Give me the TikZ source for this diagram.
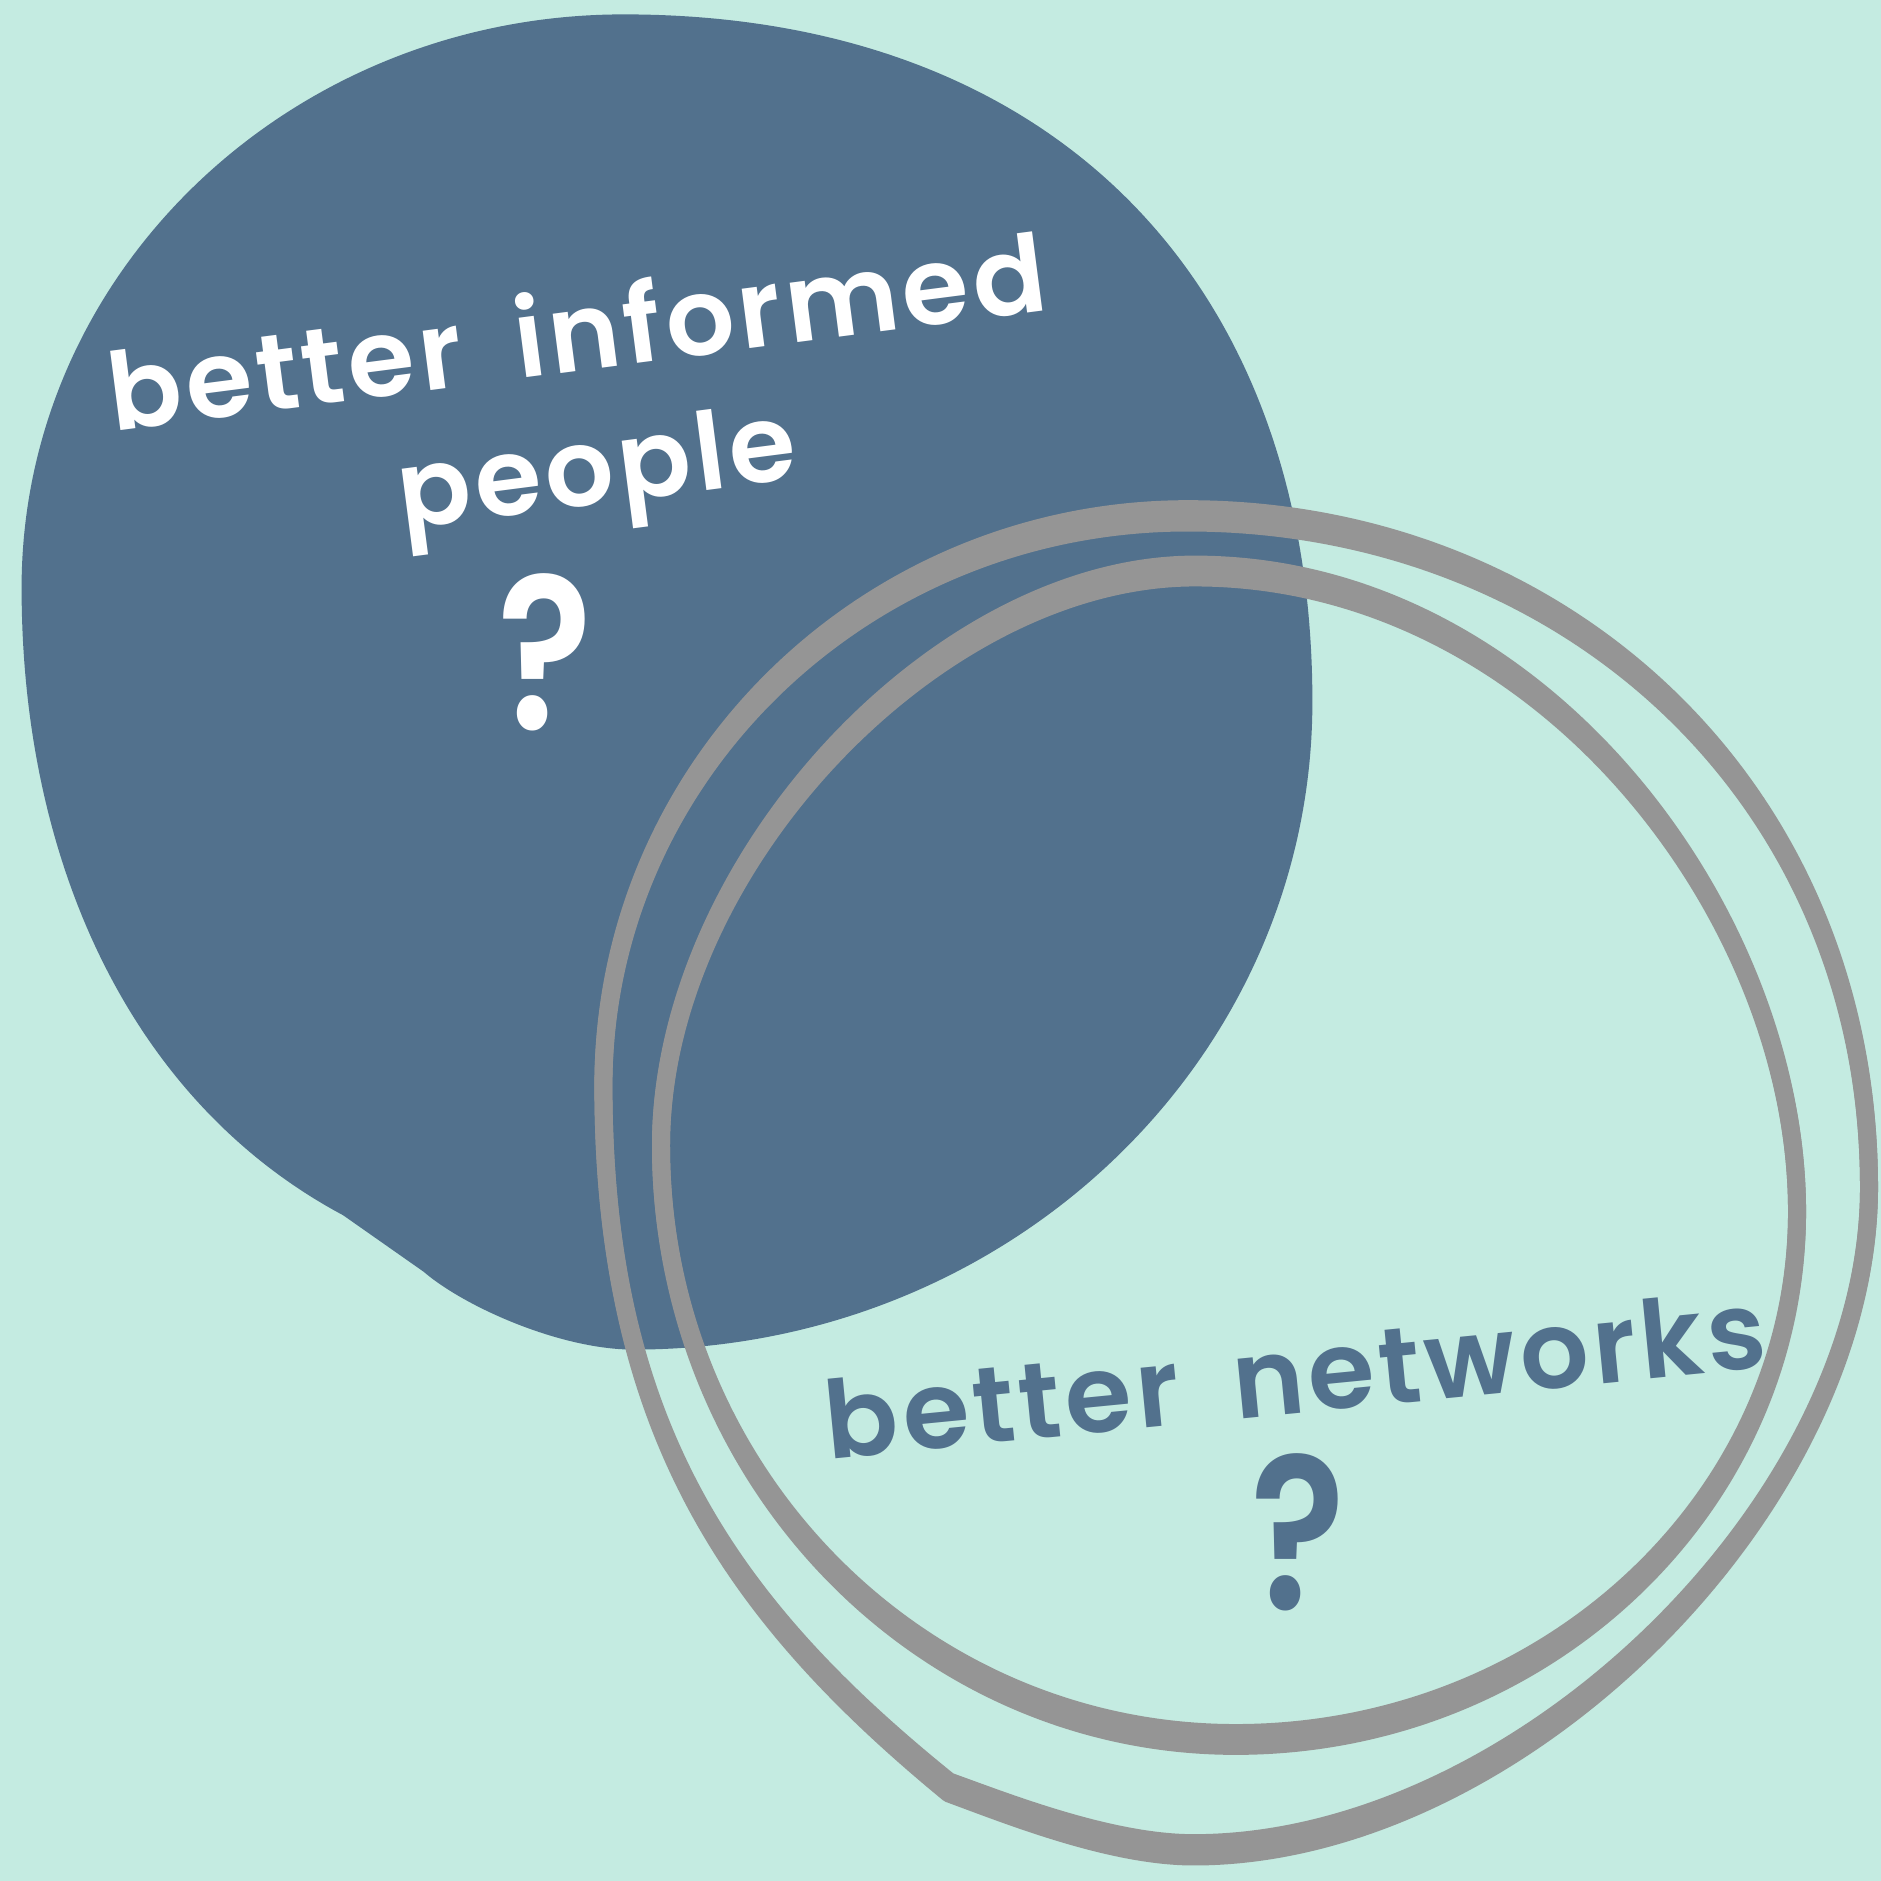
\documentclass[tikz,border=0pt]{standalone}
\usepackage{fontspec}
\newfontfamily\posterfont{Poppins}[UprightFont = {* SemiBold}, LetterSpace = 4, WordSpace = 1.8]

\definecolor{mint}{HTML}{C4EBE1}
\definecolor{slate}{HTML}{52718D}
\definecolor{ringgrey}{HTML}{959595}

\def\blobpath{(18,490) .. controls (18,226) and (243,12) .. (520,12) .. controls (875,12) and (1094,232) .. (1094,585) .. controls (1094,883) and (841,1125) .. (528,1125) .. controls (468,1125) and (388,1090) .. (353,1060) -- (286,1013) .. controls (110,919) and (18,720) .. cycle}

\def\ringouter{(791,1490) .. controls (608,1341) and (503,1189) .. (503,905) .. controls (503,643) and (721,430) .. (990,430) .. controls (1304,430) and (1558,660) .. (1558,990) .. controls (1558,1254) and (1266,1542) .. (995,1542) .. controls (925,1542) and (838,1507) .. (791,1490)}

\def\ringinner{(996,476) .. controls (1284,476) and (1498,762) .. (1498,1010) .. controls (1498,1253) and (1288,1450) .. (1030,1450) .. controls (765,1450) and (551,1228) .. (551,955) .. controls (551,722) and (781,476) .. (996,476) -- cycle}

\begin{document}
\begin{tikzpicture}[x = 1pt, y = -1pt,
        ringline/.style = {draw = ringgrey, line width = 15pt, line cap = round, line join = round},
        wordfont/.style = {font = {\posterfont\fontsize{90}{100}\selectfont}, inner sep = 0pt, anchor = base},
        markfont/.style = {font = {\posterfont\fontsize{180}{200}\selectfont}, inner sep = 0pt, anchor = base, xscale = 0.82}]
        \useasboundingbox (0,0) rectangle (1568,1568);
        \fill[mint] (0,0) rectangle (1568,1568);

        \fill[slate] \blobpath;


        \draw[ringline, shift = {(0,986)}, yscale = 0.99, shift = {(0,-986)}] \ringouter;
        \draw[ringline, shift = {(0,986)}, yscale = 1.01, shift = {(0,-986)}] \ringouter;

        \draw[ringline, shift = {(0,963)}, yscale = 0.989, shift = {(0,-963)}] \ringinner;
        \draw[ringline, shift = {(0,963)}, yscale = 1.011, shift = {(0,-963)}] \ringinner;


        \node[wordfont, white, rotate = 7.4] (informed) at (485,309) {better informed};

        \node[wordfont, white, rotate = 7.4] (people) at (501,420) {people};

        \node[markfont, white] (peoplemark) at (454,608) {?};


        \node[wordfont, slate, rotate = 5.6] (networks) at (1083,1178) {better networks};

        \node[markfont, slate] (networksmark) at (1082,1342) {?};
\end{tikzpicture}
\end{document}
